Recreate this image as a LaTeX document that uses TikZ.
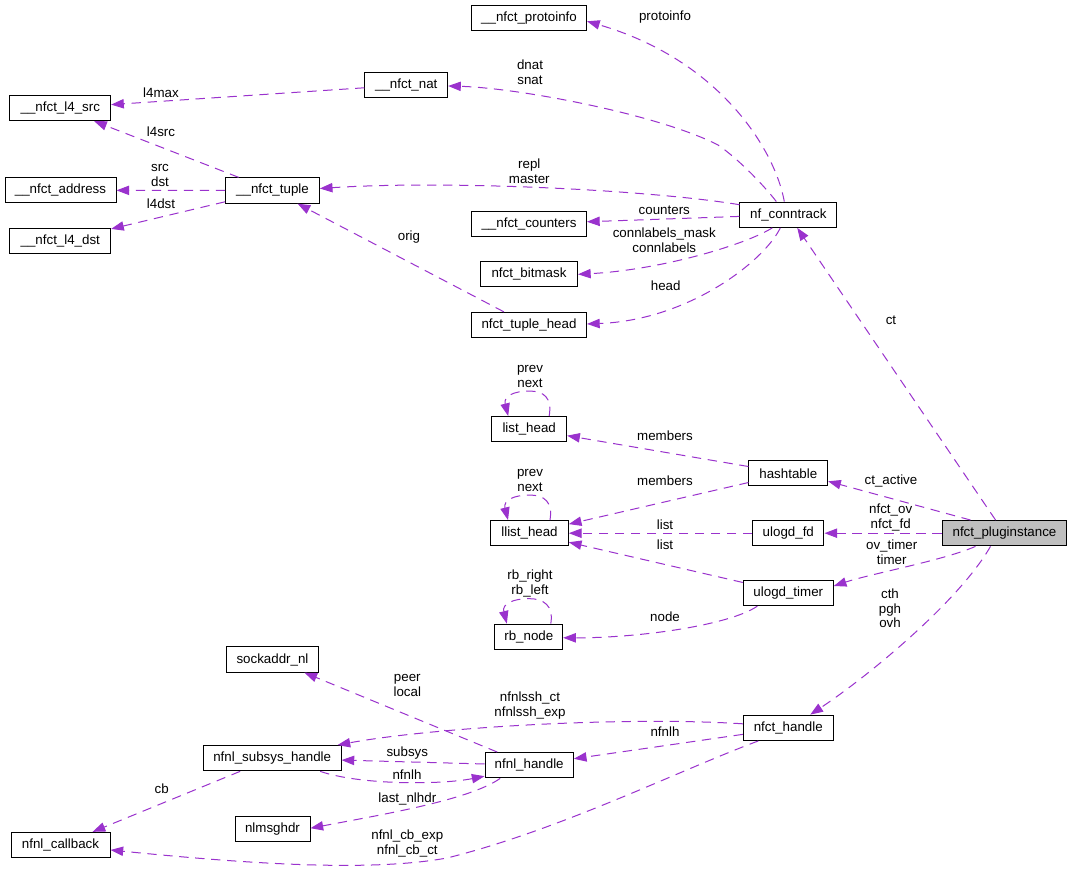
\documentclass[tikz,border=0pt]{standalone}
\usepackage{fontspec}
\setmainfont{Liberation Sans}
\usetikzlibrary{arrows.meta,calc}
\definecolor{purp}{HTML}{9A32CD}
\definecolor{plugfill}{HTML}{BFBFBF}
\begin{document}
\begin{tikzpicture}[x=0.75pt,y=-0.75pt,
  box/.style={draw=black, line width=0.75pt, minimum width=#1, minimum height=19pt, inner sep=0pt, font=\fontsize{10}{12}\selectfont},
  lbl/.style={font=\fontsize{10}{11.25}\selectfont, align=center, inner sep=0pt},
  edge/.style={draw=purp, line width=0.75pt, dash pattern=on 7pt off 5pt, -{Triangle[length=9.5pt,width=7pt,fill=purp]}}]
\fill[white] (0,0) rectangle (1072,873);
\useasboundingbox (0,0) rectangle (1072,873);
% nodes
\node[box=86.25pt] (proto) at (529,18.3) {\_\_nfct\_protoinfo};
\node[box=62pt] (nat) at (406.3,85) {\_\_nfct\_nat};
\node[box=75.5pt] (l4src) at (60.3,108) {\_\_nfct\_l4\_src};
\node[box=83.25pt] (addr) at (60.5,190.3) {\_\_nfct\_address};
\node[box=70.25pt] (tuple) at (272.5,190.5) {\_\_nfct\_tuple};
\node[box=75.5pt] (l4dst) at (60.3,241) {\_\_nfct\_l4\_dst};
\node[box=72.5pt] (nc) at (788.3,214.7) {nf\_conntrack};
\node[box=86.25pt] (cnt) at (529,223.8) {\_\_nfct\_counters};
\node[box=72.75pt] (bm) at (529,274.3) {nfct\_bitmask};
\node[box=86.25pt] (th) at (529,325) {nfct\_tuple\_head};
\node[box=56.25pt] (lh) at (529.2,429.2) {list\_head};
\node[box=59pt] (ht) at (788.3,473.3) {hashtable};
\node[box=58.25pt] (llh) at (529.5,533.2) {llist\_head};
\node[box=53.5pt] (fd) at (788.3,533.2) {ulogd\_fd};
\node[box=93.3pt, fill=plugfill] (plug) at (1004.5,533.2) {nfct\_pluginstance};
\node[box=67.5pt] (timer) at (788.3,593) {ulogd\_timer};
\node[box=50.75pt] (rb) at (528.8,636.8) {rb\_node};
\node[box=68.75pt] (sock) at (272.5,659.5) {sockaddr\_nl};
\node[box=103.25pt] (nsh) at (272.2,758.2) {nfnl\_subsys\_handle};
\node[box=66.25pt] (nfnl) at (529.2,765.2) {nfnl\_handle};
\node[box=67.5pt] (nh) at (788.3,727.8) {nfct\_handle};
\node[box=56.25pt] (nlm) at (272.5,829.2) {nlmsghdr};
\node[box=74.25pt] (cbk) at (60.5,845) {nfnl\_callback};
% edges
\draw[edge] ($(nc.north)+(-4,0)$) .. controls (775,150) and (720,60) .. ($(proto.east)+(0,3)$);
\draw[edge] ($(nc.north)+(-12,0)$) .. controls (766,188) and (740,160) .. (718,145) .. controls (660,115) and (520,88) .. ($(nat.east)+(0,1)$);
\draw[edge] (nat) -- (l4src);
\draw[edge] (tuple) -- (l4src);
\draw[edge] (tuple) -- (addr);
\draw[edge] (tuple) -- (l4dst);
\draw[edge] ($(nc.west)+(0,-10)$) .. controls (650,190) and (450,180) .. ($(tuple.east)+(0,-2)$);
\draw[edge] (th) -- (tuple);
\draw[edge] (nc) -- (cnt);
\draw[edge] ($(nc.south)+(-16,0)$) .. controls (745,245) and (660,270) .. (bm.east);
\draw[edge] ($(nc.south)+(-8,0)$) .. controls (765,260) and (690,320) .. ($(th.east)+(0,-1)$);
\draw[edge] (plug) -- (nc);
\draw[edge] ($(lh.north)+(20,0)$) .. controls +(3,-18) and +(15,0) .. ($(lh.north)+(0,-25)$) .. controls +(-15,0) and +(-5,-20) .. ($(lh.north)+(-21,0)$);
\draw[edge] (ht) -- (lh);
\draw[edge] (ht) -- (llh);
\draw[edge] ($(llh.north)+(20.5,0)$) .. controls +(3,-18) and +(15,0) .. ($(llh.north)+(0,-25)$) .. controls +(-15,0) and +(-5,-20) .. ($(llh.north)+(-21.5,0)$);
\draw[edge] (fd) -- (llh);
\draw[edge] (timer) -- (llh);
\draw[edge] ($(rb.north)+(22,0)$) .. controls +(3,-18) and +(15,0) .. ($(rb.north)+(0,-25)$) .. controls +(-15,0) and +(-5,-20) .. ($(rb.north)+(-22,0)$);
\draw[edge] ($(timer.south)+(-31,0)$) .. controls (730,625) and (640,638) .. ($(rb.east)+(0,1)$);
\draw[edge] ($(plug.north)+(-34,0)$) -- ($(ht.east)+(0,8)$);
\draw[edge] (plug) -- (fd);
\draw[edge] ($(plug.south)+(-29,0)$) .. controls (945,560) and (870,574) .. ($(timer.east)+(0,-7)$);
\draw[edge] ($(plug.south)+(-14,0)$) .. controls (960,600) and (870,675) .. ($(nh.north)+(22,0)$);
\draw[edge] (nfnl) -- (sock);
\draw[edge] ($(nh.west)+(0,-4)$) .. controls (620,716) and (430,728) .. ($(nsh.north east)+(-4,0)$);
\draw[edge] (nfnl) -- (nsh);
\draw[edge] ($(nsh.south)+(48,0)$) .. controls (360,785) and (440,785) .. ($(nfnl.west)+(0,11)$);
\draw[edge] ($(nfnl.south)+(-29,0)$) .. controls (470,800) and (380,815) .. ($(nlm.east)+(0,-1)$);
\draw[edge] (nsh) -- (cbk);
\draw[edge] ($(nh.south)+(-30,0)$) .. controls (680,770) and (560,830) .. (447,858) .. controls (370,872) and (250,864) .. ($(cbk.east)+(0,5)$);
\draw[edge] (nh) -- (nfnl);
% labels
\node[lbl] (t1) at (665,16.7) {protoinfo};
\node[lbl] (t2) at (530,72.5) {dnat\\snat};
\node[lbl] (t3) at (161,92.7) {l4max};
\node[lbl] (t4) at (161,131.7) {l4src};
\node[lbl] (t5) at (160,175.5) {src\\dst};
\node[lbl] (t6) at (161,204) {l4dst};
\node[lbl] (t7) at (529.3,171.7) {repl\\master};
\node[lbl] (t8) at (409,237.3) {orig};
\node[lbl] (t9) at (664.3,210.7) {counters};
\node[lbl] (t10) at (664.3,240) {connlabels\_mask\\connlabels};
\node[lbl] (t11) at (665.7,286) {head};
\node[lbl] (t12) at (891,320) {ct};
\node[lbl] (t13) at (530,376.3) {prev\\next};
\node[lbl] (t14) at (665,436) {members};
\node[lbl] (t15) at (530,480) {prev\\next};
\node[lbl] (t16) at (665,480.7) {members};
\node[lbl] (t17) at (665,524.3) {list};
\node[lbl] (t18) at (665,544.3) {list};
\node[lbl] (t19) at (530,583.8) {rb\_right\\rb\_left};
\node[lbl] (t20) at (665,616.7) {node};
\node[lbl] (t21) at (891,481) {ct\_active};
\node[lbl] (t22) at (890.7,518) {nfct\_ov\\nfct\_fd};
\node[lbl] (t23) at (891.7,552) {ov\_timer\\timer};
\node[lbl, font=\fontsize{10}{10.9}\selectfont] (t24) at (890,608.5) {cth\\pgh\\ovh};
\node[lbl] (t25) at (407.3,685.7) {peer\\local};
\node[lbl] (t26) at (530,705.7) {nfnlssh\_ct\\nfnlssh\_exp};
\node[lbl] (t27) at (407.3,753.3) {subsys};
\node[lbl] (t28) at (407,775) {nfnlh};
\node[lbl] (t29) at (407.3,799) {last\_nlhdr};
\node[lbl] (t30) at (161.7,789) {cb};
\node[lbl] (t31) at (407.3,843.7) {nfnl\_cb\_exp\\nfnl\_cb\_ct};
\node[lbl] (t32) at (665,731.7) {nfnlh};
\end{tikzpicture}
\end{document}
